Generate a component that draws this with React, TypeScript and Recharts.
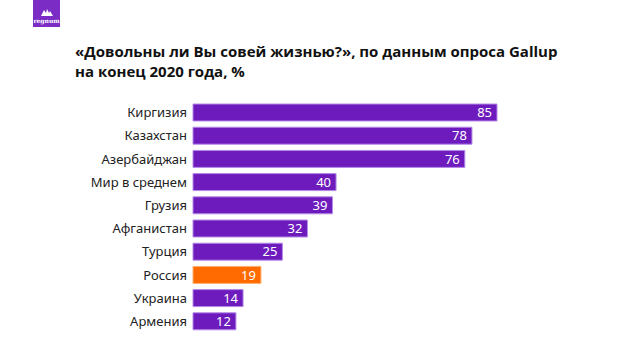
import { BarChart, Bar, XAxis, YAxis, Cell, LabelList } from 'recharts';

const countries = [
  'Киргизия',
  'Казахстан',
  'Азербайджан',
  'Мир в среднем',
  'Грузия',
  'Афганистан',
  'Турция',
  'Россия',
  'Украина',
  'Армения',
];
const satisfied = [85, 78, 76, 40, 39, 32, 25, 19, 14, 12];
const highlight = 'Россия';

const PURPLE = '#6e1bbe';
const ORANGE = '#ff6b00';

const data = countries.map((name, i) => ({ name, value: satisfied[i] }));

export default function App() {
  return (
    <div style={{ position: 'absolute', left: 0, top: 0, width: 640, height: 360, background: '#fff', fontFamily: '"Open Sans", sans-serif' }}>
      {/* logo */}
      <div
        style={{
          position: 'absolute',
          left: 33,
          top: 0,
          width: 27,
          height: 27,
          background: '#7b2cc4',
          color: '#fff',
          fontSize: 6,
          fontWeight: 700,
          textAlign: 'center',
          fontFamily: '"DejaVu Serif", serif',
        }}
      >
        <svg width="12" height="8" viewBox="0 0 12 8" style={{ display: 'block', margin: '8px auto 1px' }}>
          <path d="M0 8 L3 2 L5 5 L6 1 L8 5 L9 3 L12 8 Z" fill="#fff" />
        </svg>
        regnum
      </div>

      <div
        style={{
          position: 'absolute',
          left: 75,
          top: 41,
          fontSize: 15,
          fontWeight: 700,
          lineHeight: '20px',
          color: '#111',
        }}
      >
        «Довольны ли Вы совей жизнью?», по данным опроса Gallup
        <br />
        на конец 2020 года, %
      </div>

      <div style={{ position: 'absolute', left: 0, top: 0 }}>
        <BarChart
          width={640}
          height={360}
          data={data}
          layout="vertical"
          margin={{ top: 101, right: 143, bottom: 27, left: 0 }}
          barCategoryGap={3}
        >
          <XAxis type="number" domain={[0, 85]} hide />
          <YAxis
            type="category"
            dataKey="name"
            width={193}
            axisLine={false}
            tickLine={false}
            tickSize={0}
            tickMargin={6}
            tick={{ fill: '#222', fontSize: 13, fontFamily: '"Noto Sans", sans-serif' }}
            interval={0}
          />
          <Bar dataKey="value" barSize={17} stroke="#b58be8" strokeWidth={1} isAnimationActive={false}>
            {data.map((d) => (
              <Cell key={d.name} fill={d.name === highlight ? ORANGE : PURPLE} stroke={d.name === highlight ? '#ffb070' : '#b58be8'} />
            ))}
            <LabelList
              dataKey="value"
              position="insideRight"
              offset={5}
              fill="#fff"
              style={{ fontSize: 13, fontFamily: '"Noto Sans", sans-serif' }}
            />
          </Bar>
        </BarChart>
      </div>
    </div>
  );
}
